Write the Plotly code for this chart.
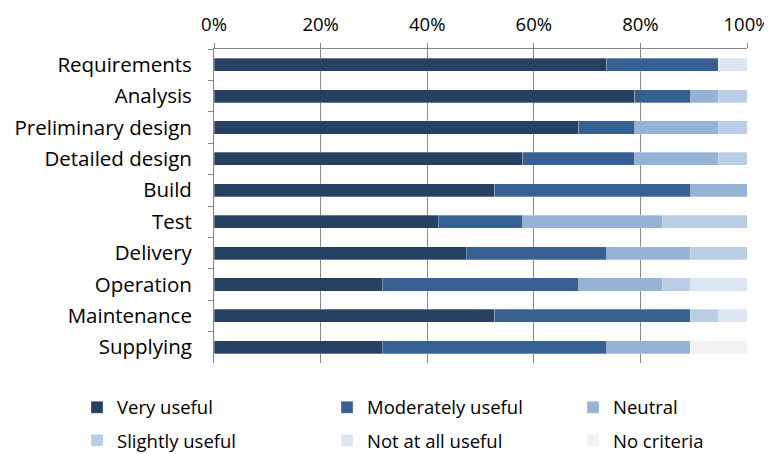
import plotly.graph_objects as go

categories = ["Requirements", "Analysis", "Preliminary design", "Detailed design", "Build",
              "Test", "Delivery", "Operation", "Maintenance", "Supplying"]

# respondent counts per answer (out of 19), normalized to percent by plotly
very_useful       = [14, 15, 13, 11, 10, 8, 9, 6, 10, 6]
moderately_useful = [4, 2, 2, 4, 7, 3, 5, 7, 7, 8]
neutral           = [0, 1, 3, 3, 2, 5, 3, 3, 0, 3]
slightly_useful   = [0, 1, 1, 1, 0, 3, 2, 1, 1, 0]
not_at_all_useful = [1, 0, 0, 0, 0, 0, 0, 2, 1, 0]
no_criteria       = [0, 0, 0, 0, 0, 0, 0, 0, 0, 2]

series_names = ["Very useful", "Moderately useful", "Neutral",
                "Slightly useful", "Not at all useful", "No criteria"]
series_values = [very_useful, moderately_useful, neutral,
                 slightly_useful, not_at_all_useful, no_criteria]
colors = ["#254061", "#376092", "#95b3d7", "#b9cde5", "#dce6f2", "#f2f2f2"]
legend_ids = ["legend", "legend2", "legend3", "legend", "legend2", "legend3"]

tick_vals = [0, 20, 40, 60, 80, 100]
tick_text = ["0%", "20%", "40%", "60%", "80%", "100%"]

FONT = "Open Sans"
LEG_FONT = dict(family=FONT, size=18.5, color="#000000")

fig = go.Figure()
for name, vals, col, lg in zip(series_names, series_values, colors, legend_ids):
    fig.add_trace(go.Bar(
        y=categories, x=vals, name=name, orientation="h",
        legend=lg, legendgroup=name,
        marker=dict(color=col, line=dict(color="rgba(255,255,255,0.6)", width=0.5)),
    ))

def leg(x):
    return dict(
        orientation="v", x=x, xanchor="left", y=-0.082, yanchor="top",
        font=LEG_FONT, traceorder="grouped", tracegroupgap=6,
        bgcolor="rgba(0,0,0,0)", itemclick=False,
    )

# the page body adds an 8px margin, so the figure is 8px smaller than the window
fig.update_layout(
    width=764, height=446,
    barmode="stack", barnorm="percent", bargap=0.58,
    plot_bgcolor="white", paper_bgcolor="white",
    margin=dict(l=206, r=25, t=41, b=91, autoexpand=False),
    font=dict(family=FONT, size=18, color="#000000"),
    showlegend=True,
    legend=leg(-0.257),
    legend2=leg(0.212),
    legend3=leg(0.6735),
    xaxis=dict(
        side="top", range=[0, 100], tickvals=tick_vals, ticktext=tick_text,
        showgrid=True, gridcolor="#868686", gridwidth=1,
        showline=True, linecolor="#868686", linewidth=1,
        ticks="outside", ticklen=5, tickcolor="#868686",
        zeroline=False, fixedrange=True, ticklabelstandoff=5,
        tickfont=dict(family=FONT, size=18.5),
    ),
    yaxis=dict(
        categoryorder="array", categoryarray=categories, autorange="reversed",
        showline=True, linecolor="#868686", linewidth=1,
        ticks="outside", ticklen=5, tickcolor="#868686", tickson="boundaries",
        showgrid=False, ticklabelstandoff=17,
        tickfont=dict(family=FONT, size=20.5),
    ),
)

fig.write_html("out.html")
